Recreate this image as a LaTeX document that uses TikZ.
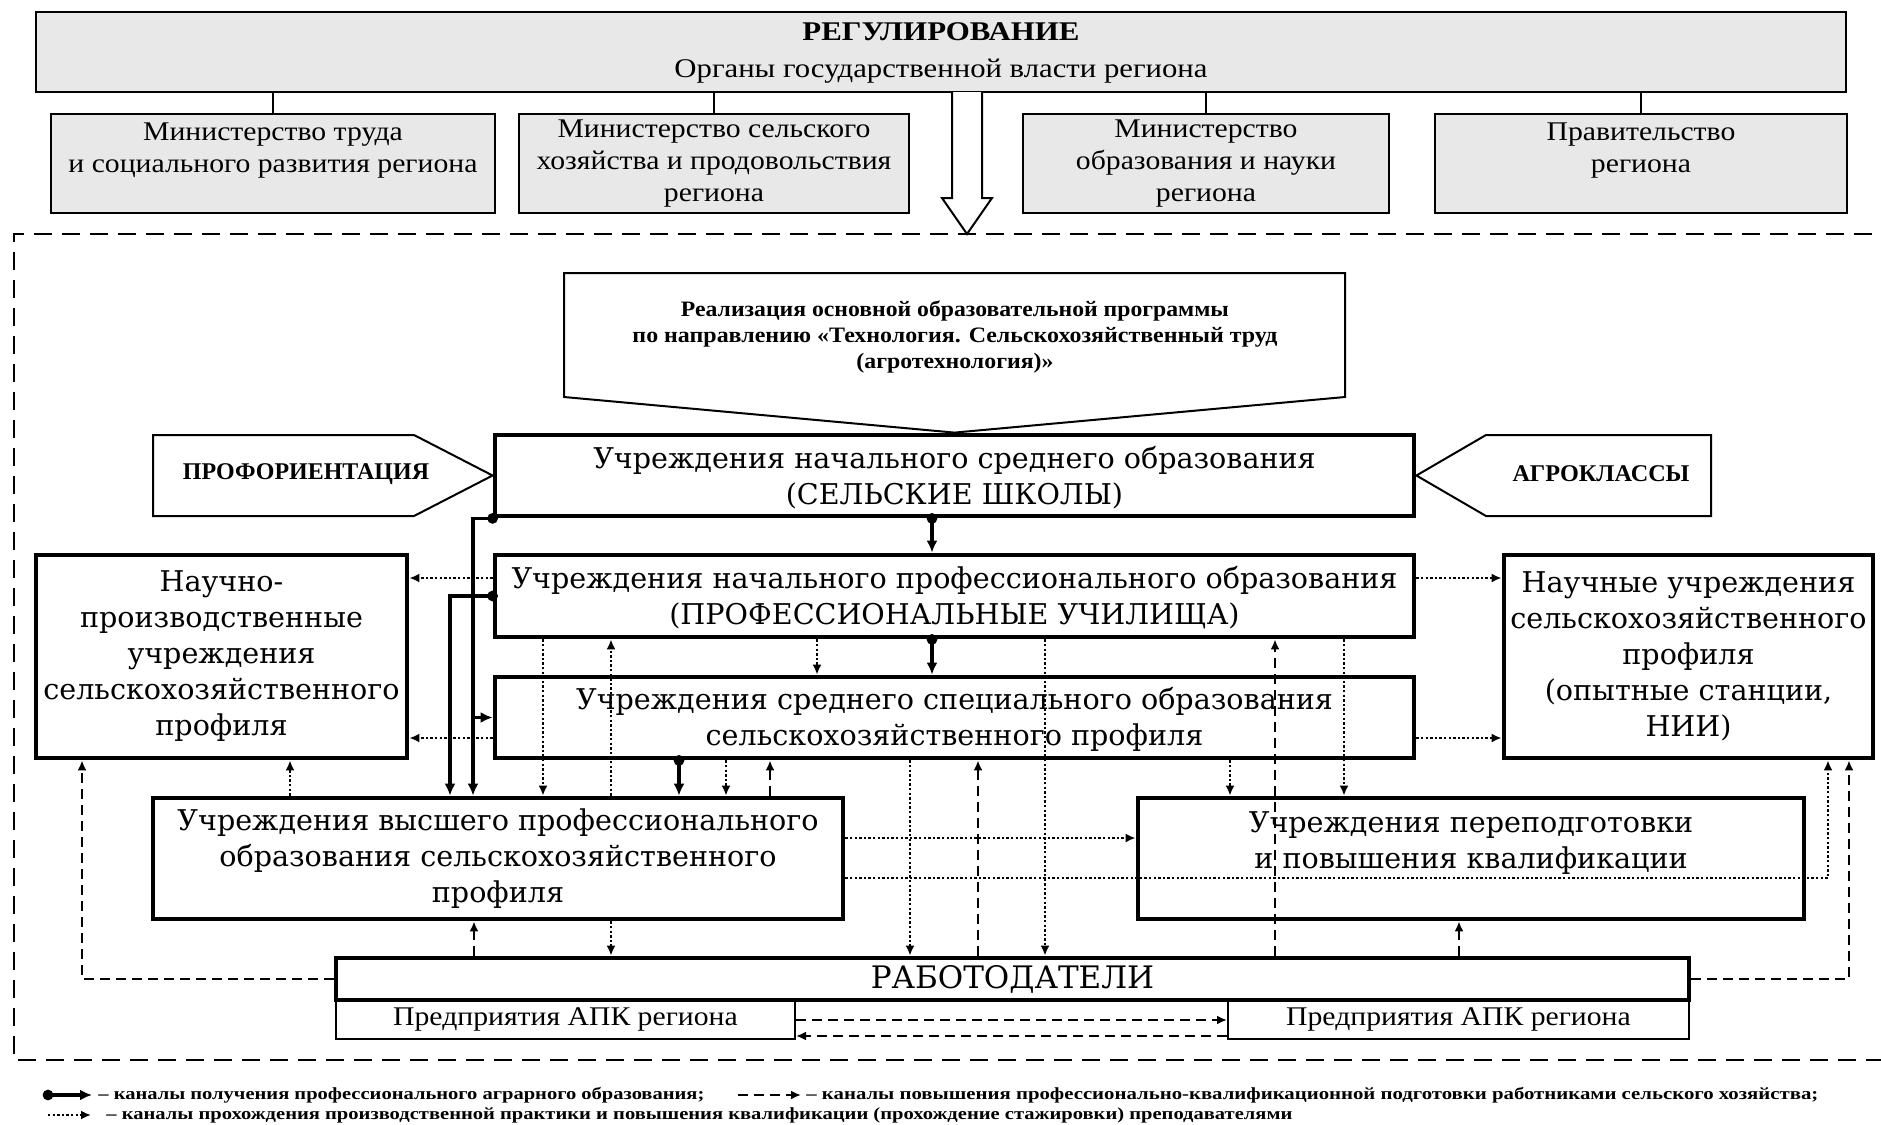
\documentclass[tikz,border=0pt]{standalone}
\usepackage{fontspec}
\usepackage{graphicx}
\setmainfont{Liberation Serif}[FakeStretch=1.1]
\newfontfamily\dvs{DejaVu Serif}
\usetikzlibrary{arrows.meta,fit}
\begin{document}
\begin{tikzpicture}[x=0.5pt,y=-0.5pt,
 thinbox/.style={draw, line width=1pt, fill=white, inner sep=0pt},
 graybox/.style={thinbox, fill=black!9},
 heavybox/.style={draw, line width=2.4pt, fill=white, inner sep=0pt},
 boxfont/.style={inner sep=0pt, font=\dvs\fontsize{14.3pt}{18pt}\selectfont, align=center},
 minfont/.style={inner sep=0pt, font=\fontsize{13.5pt}{15.8pt}\selectfont, align=center},
 thinline/.style={line width=1pt},
 chan/.style={line width=1.8pt, -{Latex[length=6pt,width=5.5pt]}},
 dotl/.style={line width=1.3pt, dash pattern=on 1.2pt off 1.1pt, -{Latex[length=5pt,width=4.5pt]}},
 dashl/.style={line width=1.1pt, dash pattern=on 5pt off 3pt, -{Latex[length=5pt,width=4.5pt]}},
 outerframe/.style={line width=1.3pt, dash pattern=on 9pt off 5pt},
 lbl/.style={inner sep=0pt, font=\bfseries\fontsize{8.5pt}{10pt}\selectfont},
 tagfont/.style={inner sep=0pt, font=\bfseries\fontsize{12pt}{14pt}\selectfont},
]
\useasboundingbox (0,0) rectangle (1881,1125);

% outer dashed frame
\draw[outerframe] (1900,234) -- (14,234) -- (14,1060) -- (1900,1060);

% regulation block
\node[graybox, fit={(36,12)(1846,92)}] (reg) {};
\node[inner sep=0pt, font=\fontsize{13.5pt}{18.5pt}\selectfont, align=center] (regT) at ([yshift=-0.5pt]reg.center)
 {\resizebox{138.5pt}{\height}{\bfseries РЕГУЛИРОВАНИЕ}\\\resizebox{266.5pt}{\height}{Органы государственной власти региона}};
\node[graybox, fit={(51,114)(495,213)}] (m1) {};
\node[graybox, fit={(519,114)(909,213)}] (m2) {};
\node[graybox, fit={(1023,114)(1389,213)}] (m3) {};
\node[graybox, fit={(1435,114)(1847,213)}] (m4) {};
\node[minfont] (m1T) at (m1.center) {Министерство труда\\и социального развития региона\\\mbox{}};
\node[minfont] (m2T) at (m2.center) {Министерство сельского\\хозяйства и продовольствия\\региона};
\node[minfont] (m3T) at (m3.center) {Министерство\\образования и науки\\региона};
\node[minfont] (m4T) at (m4.center) {Правительство\\региона\\\mbox{}};
\foreach \m in {m1,m2,m3,m4} \draw[thinline] (\m.north) -- (\m.north |- reg.south);

% hollow arrow
\draw[thinline, fill=white] (952,92) -- (952,198) -- (942,198) -- (967,234) -- (992,198) -- (982,198) -- (982,92);

% main boxes
\node[heavybox, fit={(495,435)(1414,516)}] (school) {};
\node[heavybox, fit={(495,555)(1414,637)}] (voc) {};
\node[heavybox, fit={(495,677)(1414,758)}] (sec) {};
\node[heavybox, fit={(36,555)(407,758)}] (lsci) {};
\node[heavybox, fit={(1504,555)(1873,758)}] (rsci) {};
\node[heavybox, fit={(153,798)(843,919)}] (higher) {};
\node[heavybox, fit={(1138,798)(1804,919)}] (retr) {};
\node[thinbox, fit={(336,1000)(795,1039)}] (apkL) {};
\node[thinbox, fit={(1228,1000)(1689,1039)}] (apkR) {};
\node[heavybox, fit={(336,958)(1689,1000)}] (emp) {};

\node[boxfont] (schoolT) at ([yshift=-1pt]school.center) {Учреждения начального среднего образования\\(СЕЛЬСКИЕ ШКОЛЫ)};
\node[boxfont] (vocT) at ([yshift=-1pt]voc.center) {Учреждения начального профессионального образования\\(ПРОФЕССИОНАЛЬНЫЕ УЧИЛИЩА)};
\node[boxfont] (secT) at ([yshift=-1pt]sec.center) {Учреждения среднего специального образования\\сельскохозяйственного профиля};
\node[boxfont] (lsciT) at (lsci.center) {Научно-\\производственные\\учреждения\\сельскохозяйственного\\профиля};
\node[boxfont] (rsciT) at (rsci.center) {Научные учреждения\\сельскохозяйственного\\профиля\\(опытные станции,\\НИИ)};
\node[boxfont] (higherT) at (higher.center) {Учреждения высшего профессионального\\образования сельскохозяйственного\\профиля};
\node[boxfont] (retrT) at (retr.center) {Учреждения переподготовки\\и повышения квалификации\\\mbox{}};
\node[minfont] (apkLT) at (apkL.center) {Предприятия АПК региона};
\node[minfont] (apkRT) at (apkR.center) {Предприятия АПК региона};
\node[inner sep=0pt, font=\dvs\fontsize{15.5pt}{18pt}\selectfont] (empT) at (emp.center) {РАБОТОДАТЕЛИ};

% callout
\draw[thinline] (564,273) -- (1345,273) -- (1345,397) -- (school.north) -- (564,397) -- cycle;
\node[align=center, inner sep=0pt, font=\bfseries\fontsize{11pt}{13pt}\selectfont] (call) at (955,337)
 {\resizebox{274pt}{\height}{Реализация основной образовательной программы}\\
  \resizebox{322.5pt}{\height}{по направлению «Технология. Сельскохозяйственный труд}\\
  \resizebox{98.5pt}{\height}{(агротехнология)»}};

% pentagons
\draw[thinline] (153,435) -- (414,435) -- (school.west) -- (414,516) -- (153,516) -- cycle;
\node[tagfont] (prof) at (306,474) {\resizebox{123pt}{\height}{ПРОФОРИЕНТАЦИЯ}};
\draw[thinline] (1711,435) -- (1486,435) -- (school.east) -- (1486,516) -- (1711,516) -- cycle;
\node[tagfont] (agro) at (1601,474) {\resizebox{88.5pt}{\height}{АГРОКЛАССЫ}};

% column / row references
\coordinate (k82) at (82,0);
\coordinate (k290) at (290,0);
\coordinate (k450) at (450,0);
\coordinate (k473) at (473,0);
\coordinate (k474) at (474,0);
\coordinate (k543) at (543,0);
\coordinate (k611) at (611,0);
\coordinate (k679) at (679,0);
\coordinate (k726) at (726,0);
\coordinate (k770) at (770,0);
\coordinate (k817) at (817,0);
\coordinate (k910) at (910,0);
\coordinate (k932) at (932,0);
\coordinate (k978) at (978,0);
\coordinate (k1045) at (1045,0);
\coordinate (k1230) at (1230,0);
\coordinate (k1275) at (1275,0);
\coordinate (k1344) at (1344,0);
\coordinate (k1459) at (1459,0);
\coordinate (k1828) at (1828,0);
\coordinate (k1849) at (1849,0);
\coordinate (h578) at (0,578);
\coordinate (h738) at (0,738);
\coordinate (h838) at (0,838);
\coordinate (h878) at (0,878);
\coordinate (h1020) at (0,1020);
\coordinate (h1036) at (0,1036);

% solid channels
\draw[chan] (school.south -| k932) -- (voc.north -| k932);
\draw[chan] (voc.south -| k932) -- (sec.north -| k932);
\draw[chan] (school.south west) -| (higher.north -| k473);
\draw[chan] (voc.west) -| (higher.north -| k450);
\draw[chan] (sec.west -| k473) -- (sec.west);
\draw[chan] (sec.south -| k679) -- (higher.north -| k679);
\foreach \p in {(school.south west),(voc.west),(school.south -| k932),(voc.south -| k932),(sec.south -| k679)}
  \fill \p circle[radius=2.7pt];

% dotted channels
\draw[dotl] (voc.west |- h578) -- (lsci.east |- h578);
\draw[dotl] (sec.west |- h738) -- (lsci.east |- h738);
\draw[dotl] (voc.east |- h578) -- (rsci.west |- h578);
\draw[dotl] (sec.east |- h738) -- (rsci.west |- h738);
\draw[dotl] (voc.south -| k543) -- (higher.north -| k543);
\draw[dotl] (higher.north -| k611) -- (voc.south -| k611);
\draw[dotl] (voc.south -| k817) -- (sec.north -| k817);
\draw[dotl] (sec.south -| k726) -- (higher.north -| k726);
\draw[dotl] (sec.south -| k910) -- (emp.north -| k910);
\draw[dotl] (voc.south -| k1045) -- (emp.north -| k1045);
\draw[dotl] (sec.south -| k1230) -- (retr.north -| k1230);
\draw[dotl] (voc.south -| k1344) -- (retr.north -| k1344);
\draw[dotl] (higher.north -| k290) -- (lsci.south -| k290);
\draw[dotl] (higher.south -| k611) -- (emp.north -| k611);
\draw[dotl] (higher.east |- h838) -- (retr.west |- h838);
\draw[dotl] (higher.east |- h878) -| (rsci.south -| k1828);

% dashed channels
\draw[dashl] (higher.north -| k770) -- (sec.south -| k770);
\draw[dashl] (emp.north -| k978) -- (sec.south -| k978);
\draw[dashl] (emp.north -| k1275) -- (voc.south -| k1275);
\draw[dashl] (emp.west) -| (lsci.south -| k82);
\draw[dashl] (emp.east) -| (rsci.south -| k1849);
\draw[dashl] (emp.north -| k474) -- (higher.south -| k474);
\draw[dashl] (emp.north -| k1459) -- (retr.south -| k1459);
\draw[dashl] (apkL.east |- h1020) -- (apkR.west |- h1020);
\draw[dashl] (apkR.west |- h1036) -- (apkL.east |- h1036);

% legend
\coordinate (lg1a) at (48,1095); \coordinate (lg1b) at (92,1095);
\fill (lg1a) circle[radius=2.7pt];
\draw[chan] (lg1a) -- (lg1b);
\node[lbl, anchor=west] (lt1) at (98,1095) {\resizebox{303pt}{\height}{– каналы получения профессионального аграрного образования;}};
\coordinate (lg2a) at (738,1095); \coordinate (lg2b) at (801,1095);
\draw[dashl] (lg2a) -- (lg2b);
\node[lbl, anchor=west] (lt2) at (806,1095) {\resizebox{506pt}{\height}{– каналы повышения профессионально-квалификационной подготовки работниками сельского хозяйства;}};
\coordinate (lg3a) at (48,1115); \coordinate (lg3b) at (91,1115);
\draw[dotl] (lg3a) -- (lg3b);
\node[lbl, anchor=west] (lt3) at (106,1115) {\resizebox{593pt}{\height}{– каналы прохождения производственной практики и повышения квалификации (прохождение стажировки) преподавателями}};
\end{tikzpicture}
\end{document}
